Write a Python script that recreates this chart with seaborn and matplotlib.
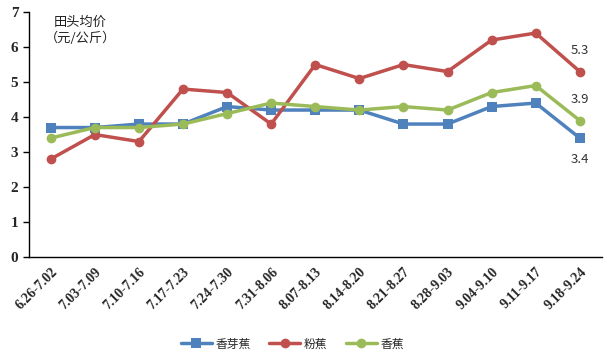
import numpy as np
import pandas as pd
import matplotlib
matplotlib.use('Agg')
import matplotlib.pyplot as plt
import seaborn as sns

# 数据
weeks = ['6.26-7.02', '7.03-7.09', '7.10-7.16', '7.17-7.23', '7.24-7.30', '7.31-8.06',
         '8.07-8.13', '8.14-8.20', '8.21-8.27', '8.28-9.03', '9.04-9.10', '9.11-9.17', '9.18-9.24']
xiangyajiao = [3.7, 3.7, 3.8, 3.8, 4.3, 4.2, 4.2, 4.2, 3.8, 3.8, 4.3, 4.4, 3.4]
fenjiao = [2.8, 3.5, 3.3, 4.8, 4.7, 3.8, 5.5, 5.1, 5.5, 5.3, 6.2, 6.4, 5.3]
xiangjiao = [3.4, 3.7, 3.7, 3.8, 4.1, 4.4, 4.3, 4.2, 4.3, 4.2, 4.7, 4.9, 3.9]
series_names = ['香芽蕉', '粉蕉', '香蕉']

df = pd.DataFrame({
    '周': np.tile(np.arange(len(weeks)), 3),
    '价格': xiangyajiao + fenjiao + xiangjiao,
    '品种': np.repeat(series_names, len(weeks)),
})

sns.set_style('white')
plt.rcParams['font.family'] = ['Noto Sans CJK SC', 'DejaVu Sans']

fig = plt.figure(figsize=(6.11, 3.55), dpi=100)
ax = fig.add_axes([0.047, 0.276, 0.938, 0.69])

palette = {'香芽蕉': '#4F81BD', '粉蕉': '#C0504D', '香蕉': '#9BBB59'}
markers = {'香芽蕉': 's', '粉蕉': 'o', '香蕉': 'o'}
sns.lineplot(data=df, x='周', y='价格', hue='品种', style='品种', markers=markers,
             dashes=False, palette=palette, linewidth=2.5, markersize=7,
             markeredgewidth=0, ax=ax)

ax.set_xlim(-0.5, len(weeks) - 0.5)
ax.set_ylim(0, 7)
ax.set_xlabel('')
ax.set_ylabel('')

# x轴：标签在中间，刻度在分隔处
ax.set_xticks(range(len(weeks)))
ax.set_xticklabels(weeks, rotation=45, ha='right', rotation_mode='anchor',
                   family='Liberation Serif', fontweight='bold', fontsize=10)
ax.set_xticks(np.arange(-0.5, len(weeks), 1), minor=True)
ax.tick_params(axis='x', which='major', length=0, pad=6)
ax.tick_params(axis='x', which='minor', length=4, width=1, color='black', direction='out')
ax.set_yticks(range(0, 8))
ax.set_yticklabels([str(i) for i in range(0, 8)], family='Liberation Serif',
                   fontweight='bold', fontsize=11)
ax.tick_params(axis='y', length=4, width=1, color='black', direction='out', left=True)

for s in ['top', 'right']:
    ax.spines[s].set_visible(False)
for s in ['left', 'bottom']:
    ax.spines[s].set_color('black')
    ax.spines[s].set_linewidth(1)

# 单位
ax.text(0.09, 0.985, '田头均价\n（元/公斤）', transform=ax.transAxes, ha='center', va='top',
        fontsize=9.5, color='#222222', linespacing=1.3)

# 最后一个点的标注
last = len(weeks) - 1
ax.text(last, fenjiao[-1] + 0.6, f'{fenjiao[-1]}', ha='center', va='center', fontsize=9.5, color='#333333')
ax.text(last, xiangjiao[-1] + 0.6, f'{xiangjiao[-1]}', ha='center', va='center', fontsize=9.5, color='#333333')
ax.text(last, xiangyajiao[-1] - 0.6, f'{xiangyajiao[-1]}', ha='center', va='center', fontsize=9.5, color='#333333')

leg = ax.legend(loc='upper center', bbox_to_anchor=(0.46, -0.285), ncol=3, frameon=False,
                fontsize=8.5, handlelength=2.6, handletextpad=0.3, columnspacing=1.6)

fig.savefig('out.png', dpi=100)
